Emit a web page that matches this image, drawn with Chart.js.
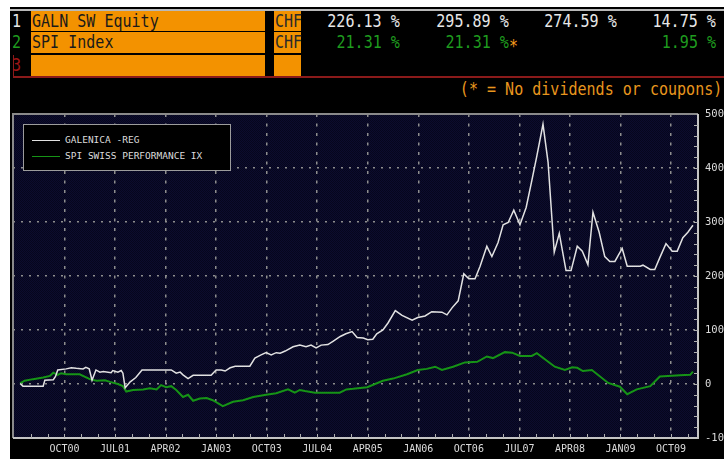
<!DOCTYPE html>
<html>
<head>
<meta charset="utf-8">
<script src="https://cdn.jsdelivr.net/npm/chart.js"></script>
<style>
  html, body { margin: 0; padding: 0; background: #fff; width: 724px; height: 459px; overflow: hidden; }
  #panel { position: absolute; left: 10px; top: 7px; right: 0; bottom: 0; background: #000; }
  .bar { position: absolute; }
  .t { position: absolute; font-family: 'DejaVu Sans Mono', monospace; font-size: 18px; line-height: 20px;
       white-space: pre; transform: scaleX(0.835); transform-origin: left center; }
  .r { transform-origin: right center; }
  #chart { position: absolute; left: 0; top: 0; z-index: 1; }
  #legend { position: absolute; left: 23px; top: 124px; width: 206px; height: 45px; border: 1px solid #9c9c9c;
            background: #000; z-index: 2; font-family: 'DejaVu Sans Mono', monospace; font-size: 9.5px; color: #dcdcdc; }
  .lg { position: absolute; left: 8px; height: 16px; line-height: 16px; white-space: pre; }
  .lg span { display: inline-block; width: 28px; height: 0; vertical-align: middle; margin-right: 5px; border-top: 1.5px solid; }
</style>
</head>
<body>
<div id="panel"></div>

<!-- security table -->
<div class="bar" style="left:10px;top:9px;width:714px;height:2px;background:#b9b9b9"></div>
<div class="bar" style="left:31px;top:11px;width:234px;height:20px;background:#f39200"></div>
<div class="bar" style="left:31px;top:32px;width:234px;height:21px;background:#f39200"></div>
<div class="bar" style="left:31px;top:55px;width:234px;height:21px;background:#f39200"></div>
<div class="bar" style="left:274px;top:11px;width:27px;height:20px;background:#f39200"></div>
<div class="bar" style="left:274px;top:32px;width:27px;height:21px;background:#f39200"></div>
<div class="bar" style="left:274px;top:55px;width:27px;height:21px;background:#f39200"></div>
<div class="bar" style="left:13px;top:55px;width:1px;height:21px;background:#8b1a1a"></div>
<div class="bar" style="left:13px;top:76px;width:711px;height:1.5px;background:#8b1a1a"></div>

<div class="t" style="left:12px;top:11px;color:#e8e8e8">1</div>
<div class="t" style="left:12px;top:32px;color:#1f9b1f">2</div>
<div class="t" style="left:12px;top:55px;color:#a01515">3</div>
<div class="t" style="left:32px;top:11px;color:#1a1a1a">GALN SW Equity</div>
<div class="t" style="left:32px;top:32px;color:#1a1a1a">SPI Index</div>
<div class="t" style="left:275px;top:11px;color:#2a2a2a">CHF</div>
<div class="t" style="left:275px;top:32px;color:#2a2a2a">CHF</div>

<div class="t r" style="right:324px;top:11px;color:#e8e8e8">226.13 %</div>
<div class="t r" style="right:215px;top:11px;color:#e8e8e8">295.89 %</div>
<div class="t r" style="right:107px;top:11px;color:#e8e8e8">274.59 %</div>
<div class="t r" style="right:8px;top:11px;color:#e8e8e8">14.75 %</div>
<div class="t r" style="right:324px;top:32px;color:#1f9b1f">21.31 %</div>
<div class="t r" style="right:215px;top:32px;color:#1f9b1f">21.31 %</div>
<div class="t" style="left:509px;top:36px;color:#f59a1c">*</div>
<div class="t r" style="right:8px;top:32px;color:#1f9b1f">1.95 %</div>
<div class="t r" style="right:2px;top:79px;color:#e8961e">(* = No dividends or coupons)</div>

<canvas id="chart" width="724" height="459"></canvas>
<div id="legend"></div>

<script>
// month index from JAN 2000, values in %
const tickMonths = [9, 18, 27, 36, 45, 54, 63, 72, 81, 90, 99, 108, 117];
const tickLabels = ['OCT00', 'JUL01', 'APR02', 'JAN03', 'OCT03', 'JUL04', 'APR05', 'JAN06', 'OCT06', 'JUL07', 'APR08', 'JAN09', 'OCT09'];

const galMonths = [1.1, 1.6, 5.2, 5.5, 7.0, 7.4, 7.8, 9.3, 10.2, 11.1,
  12.3, 12.8, 13.4, 13.9, 14.6, 15.3, 15.9, 17.3, 17.6, 18.5,
  19.1, 19.4, 19.8, 20.7, 21.7, 22.8, 28.0, 28.9, 29.6, 30.1,
  31.0, 31.9, 35.1, 36.0, 36.9, 37.6, 38.5, 39.4, 42.0, 42.9,
  44.0, 44.9, 45.8, 46.7, 47.4, 48.3, 49.7, 50.9, 52.0, 52.9,
  53.8, 54.7, 55.9, 56.8, 58.1, 59.1, 60.2, 61.1, 62.2, 63.0,
  63.9, 64.6, 65.7, 66.6, 67.9, 69.1, 70.9, 71.9, 73.2, 74.4,
  76.2, 77.1, 78.0, 79.1, 80.1, 81.0, 82.1, 83.0, 84.2, 85.1,
  86.2, 87.1, 88.0, 89.0, 90.1, 91.2, 92.2, 93.1, 94.2, 95.1,
  96.2, 97.1, 98.3, 99.2, 100.3, 101.2, 102.2, 103.1, 104.2, 105.2,
  106.1, 107.0, 108.3, 109.2, 111.5, 112.0, 113.3, 114.1, 115.0, 116.1,
  117.2, 118.1, 119.1, 120.0, 120.9];
const galValues = [1, -4, -4, 7, 8, 14, 26, 28, 30, 29,
  28, 31, 28, 7, 26, 22, 23, 21, 25, 22,
  25, 20, -7, 4, 12, 26, 26, 20, 22, 17,
  10, 16, 16, 26, 26, 24, 30, 33, 33, 48,
  54, 58, 54, 58, 57, 61, 69, 72, 69, 72,
  67, 72, 73, 79, 88, 93, 97, 86, 85, 82,
  83, 93, 100, 113, 136, 127, 118, 123, 126, 134,
  133, 128, 141, 154, 204, 195, 195, 218, 255, 236,
  262, 295, 299, 322, 295, 327, 376, 422, 481, 411,
  244, 279, 210, 210, 255, 246, 221, 318, 281, 236,
  227, 227, 251, 218, 218, 220, 212, 212, 234, 260,
  246, 246, 271, 281, 294];

const spiMonths = [1.1, 1.9, 3.4, 5.2, 6.4, 7.0, 7.8, 8.4, 9.3, 11.7,
  13.5, 14.7, 16.2, 17.1, 18.5, 19.4, 20.0, 21.2, 23.0, 24.2,
  25.4, 26.2, 27.1, 28.0, 28.9, 30.1, 31.0, 31.9, 33.1, 34.3,
  35.4, 37.2, 39.0, 40.8, 42.6, 44.9, 46.7, 48.8, 50.0, 50.9,
  51.8, 53.6, 58.0, 59.2, 60.4, 62.9, 65.7, 67.5, 70.0, 71.9,
  73.5, 75.0, 76.2, 78.2, 80.3, 82.5, 84.2, 85.3, 87.4, 88.7,
  90.1, 92.2, 93.1, 96.3, 98.1, 99.4, 100.3, 101.3, 102.9, 105.8,
  107.9, 109.2, 110.9, 113.3, 115.0, 118.6, 120.4, 120.9];
const spiValues = [1, 6, 9, 12, 15, 21, 17, 20, 18, 18,
  9, 6, 7, 4, 0, -4, -14, -11, -10, -8,
  -10, -2, -6, -4, -11, -24, -20, -31, -27, -26,
  -30, -41, -33, -30, -24, -20, -17, -10, -16, -11,
  -13, -16, -16, -10, -9, -6, 6, 10, 18, 26,
  28, 32, 26, 32, 40, 41, 51, 48, 59, 58,
  52, 52, 57, 32, 26, 31, 30, 24, 26, 2,
  -5, -19, -10, -4, 14, 16, 17, 23];

const seriesNames = ['GALENICA -REG', 'SPI SWISS PERFORMANCE IX'];
const seriesColors = ['#e2e2e2', '#169416'];

const toPoints = function (xs, ys) {
  return xs.map(function (x, i) { return { x: x, y: ys[i] }; });
};

// hatched navy background of the plot area
const hatch = document.createElement('canvas');
hatch.width = 2;
hatch.height = 2;
const hctx = hatch.getContext('2d');
hctx.fillStyle = '#0c0c2e';
hctx.fillRect(0, 0, 2, 2);
hctx.fillStyle = '#06061c';
hctx.fillRect(0, 0, 1, 1);
hctx.fillRect(1, 1, 1, 1);

const framePlugin = {
  id: 'frame',
  beforeDraw: function (chart) {
    const a = chart.chartArea;
    const c = chart.ctx;
    c.save();
    c.fillStyle = c.createPattern(hatch, 'repeat');
    c.fillRect(a.left, a.top, a.right - a.left, a.bottom - a.top);
    c.restore();
  },
  afterDraw: function (chart) {
    const a = chart.chartArea;
    const c = chart.ctx;
    const xs = chart.scales.x;
    const ys = chart.scales.y;
    c.save();
    c.lineWidth = 2;
    c.strokeStyle = '#8a8a8a';
    c.beginPath();
    c.moveTo(a.left, a.bottom);
    c.lineTo(a.left, a.top);
    c.lineTo(a.right, a.top);
    c.stroke();
    c.strokeStyle = '#c4c4c4';
    c.beginPath();
    c.moveTo(a.left, a.bottom);
    c.lineTo(a.right, a.bottom);
    c.lineTo(a.right, a.top);
    c.stroke();
    // minor ticks, pointing into the plot
    c.lineWidth = 1;
    c.strokeStyle = '#b0b0b0';
    c.beginPath();
    for (let m = 3; m < xs.max; m += 3) {
      const px = Math.round(xs.getPixelForValue(m)) + 0.5;
      c.moveTo(px, a.bottom);
      c.lineTo(px, a.bottom - 4);
    }
    for (let v = -80; v < 500; v += 20) {
      const py = Math.round(ys.getPixelForValue(v)) + 0.5;
      c.moveTo(a.right, py);
      c.lineTo(a.right - 4, py);
    }
    c.stroke();
    c.restore();
  }
};

const ctx = document.getElementById('chart').getContext('2d');
const chart = new Chart(ctx, {
  type: 'line',
  data: {
    datasets: [
      {
        label: seriesNames[0],
        data: toPoints(galMonths, galValues),
        borderColor: seriesColors[0],
        borderWidth: 1.5,
        pointRadius: 0,
        tension: 0
      },
      {
        label: seriesNames[1],
        data: toPoints(spiMonths, spiValues),
        borderColor: seriesColors[1],
        borderWidth: 2,
        pointRadius: 0,
        tension: 0
      }
    ]
  },
  options: {
    responsive: false,
    animation: false,
    devicePixelRatio: 1,
    layout: { padding: { left: 13, top: 114, right: 0, bottom: 0 } },
    plugins: {
      legend: { display: false },
      tooltip: { enabled: false }
    },
    scales: {
      x: {
        type: 'linear',
        min: -0.17,
        max: 121.8,
        afterBuildTicks: function (scale) {
          scale.ticks = tickMonths.map(function (m) { return { value: m }; });
        },
        afterFit: function (scale) { scale.height = 21; },
        grid: { color: '#8e8e8e', lineWidth: 1.5, drawTicks: false },
        border: { display: false, dash: [3, 6.5] },
        ticks: {
          autoSkip: false,
          maxRotation: 0,
          padding: 5,
          color: '#dcdcdc',
          font: { family: 'DejaVu Sans Mono', size: 10 },
          callback: function (value) {
            return tickLabels[tickMonths.indexOf(value)];
          }
        }
      },
      y: {
        position: 'right',
        min: -100,
        max: 500,
        afterFit: function (scale) { scale.width = 26; },
        grid: { color: '#8e8e8e', lineWidth: 1.5, drawTicks: false },
        border: { display: false, dash: [2, 6] },
        ticks: {
          stepSize: 100,
          padding: 7,
          color: '#dcdcdc',
          font: { family: 'DejaVu Sans Mono', size: 10.5 }
        }
      }
    }
  },
  plugins: [framePlugin]
});

// legend box inside the plot
const legend = document.getElementById('legend');
chart.data.datasets.forEach(function (ds, i) {
  const row = document.createElement('div');
  row.className = 'lg';
  row.style.top = (7 + i * 16) + 'px';
  row.innerHTML = '<span style="border-color:' + ds.borderColor + '"></span>' + ds.label;
  legend.appendChild(row);
});
</script>
</body>
</html>
